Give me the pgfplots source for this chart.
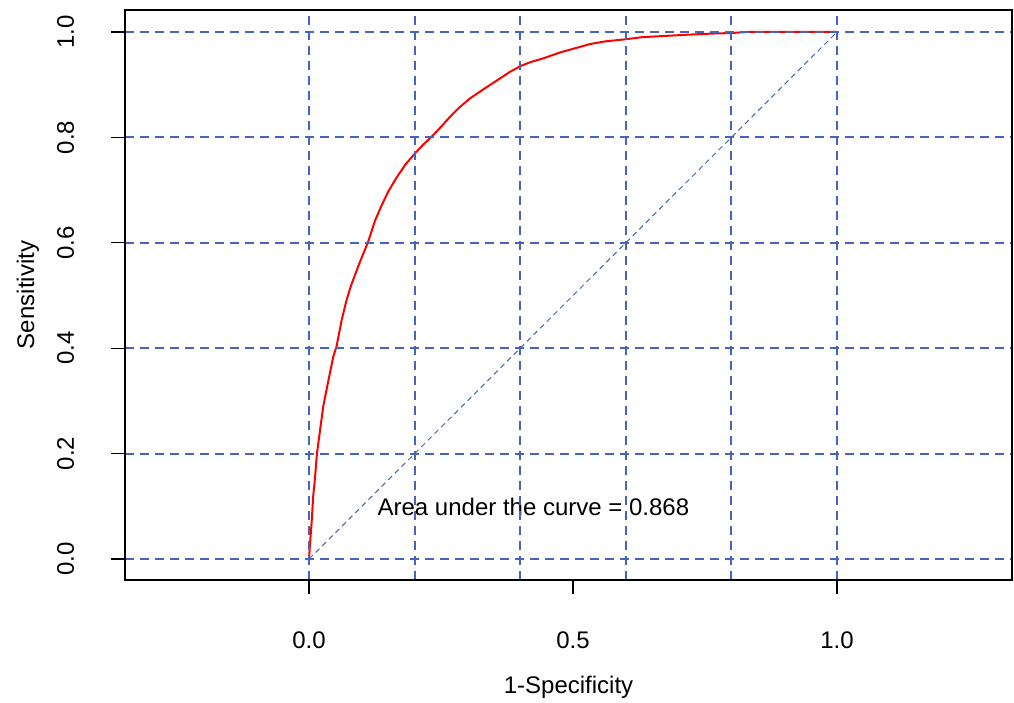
\documentclass[border=0pt]{standalone}
\usepackage{fontspec}
\setmainfont{Liberation Sans}
\usepackage{pgfplots}
\pgfplotsset{compat=1.18}
\definecolor{gridblue}{RGB}{70,100,185}
\definecolor{rocred}{RGB}{255,0,0}
\begin{document}
\begin{tikzpicture}[font=\fontsize{18}{21.6}\selectfont]
\begin{axis}[name=ax, scale only axis, width=665.25pt, height=427.5pt,
 xmin=-0.3485, xmax=1.3314, ymin=-0.0398, ymax=1.0417,
 axis line style={black, line width=1pt},
 xtick={0,0.5,1}, ytick={0,0.2,0.4,0.6,0.8,1},
 minor xtick={0,0.2,0.4,0.6,0.8,1},
 tick align=outside, major tick length=10.5pt, minor tick length=0pt,
 major tick style={black, line width=1pt},
 xtick pos=bottom, ytick pos=left,
 xminorgrids, ymajorgrids,
 grid style={gridblue, line width=1.5pt, dash pattern=on 6.75pt off 4.5pt},
 /pgf/number format/fixed, /pgf/number format/fixed zerofill,
 /pgf/number format/precision=1, /pgf/number format/assume math mode=true,
 xticklabel style={anchor=center, yshift=-35pt},
 yticklabel style={xshift=-34pt, rotate=90, anchor=center},
 axis on top,
]
\addplot[gridblue, line width=0.75pt, dash pattern=on 4pt off 3pt] coordinates {(0,0) (1,1)};
\addplot[rocred, line width=1.5pt] coordinates {
(0,0) (0.002,0.03) (0.005,0.07) (0.008,0.12) (0.011,0.15) (0.015,0.20)
(0.021,0.245) (0.027,0.29) (0.037,0.34) (0.046,0.384) (0.052,0.403)
(0.062,0.454) (0.071,0.491) (0.080,0.52) (0.095,0.56) (0.112,0.602)
(0.125,0.642) (0.138,0.672) (0.150,0.697) (0.166,0.724) (0.183,0.749)
(0.201,0.770) (0.215,0.785) (0.232,0.801) (0.250,0.82) (0.267,0.839)
(0.285,0.857) (0.305,0.874) (0.333,0.893) (0.362,0.912) (0.380,0.924)
(0.400,0.935) (0.420,0.943) (0.444,0.950) (0.475,0.961) (0.500,0.968)
(0.532,0.977) (0.560,0.982) (0.598,0.986) (0.630,0.990) (0.665,0.992)
(0.720,0.995) (0.765,0.997) (0.800,0.998) (0.830,1.0) (1.0,1.0)};
\node at (axis cs:0.425,0.099) {Area under the curve = 0.868};
\end{axis}
\node at ([yshift=-80.25pt]ax.south) {1-Specificity};
\node[rotate=90] at ([xshift=-72.75pt]ax.west) {Sensitivity};
\path[use as bounding box] ([xshift=-93.75pt,yshift=-91.5pt]ax.south west) rectangle ([xshift=1.5pt,yshift=7.5pt]ax.north east);
\end{tikzpicture}
\end{document}
